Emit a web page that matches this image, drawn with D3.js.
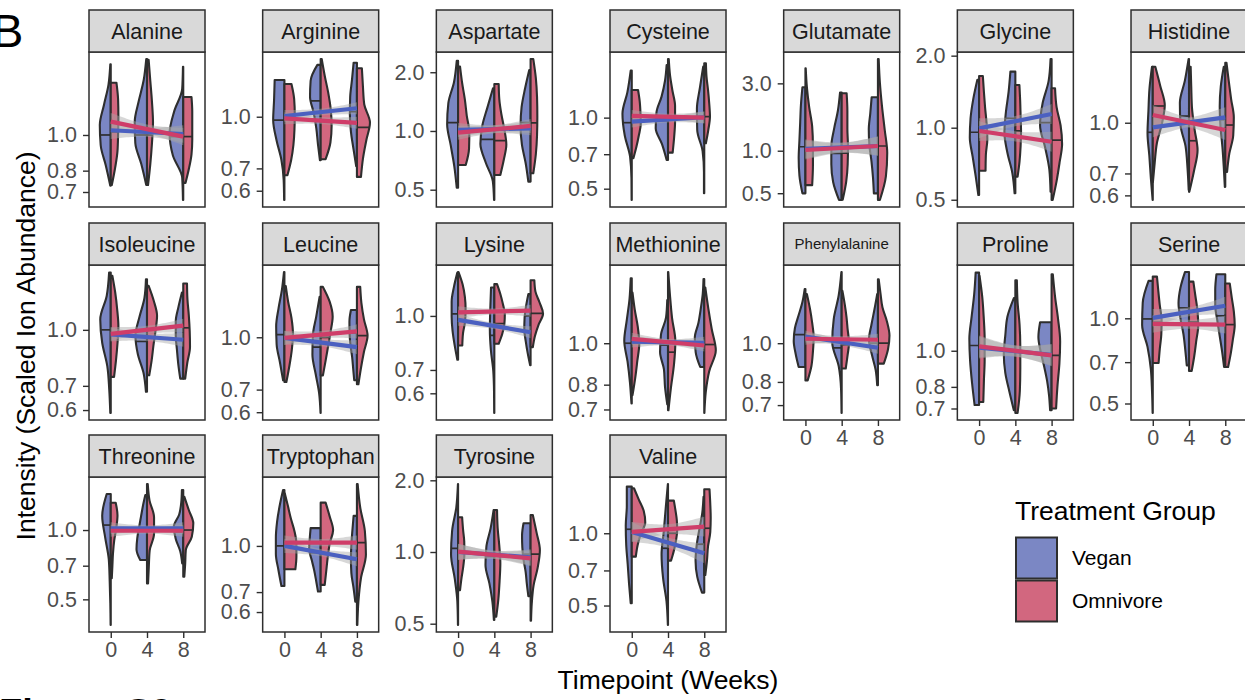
<!DOCTYPE html>
<html><head><meta charset="utf-8">
<script src="https://cdn.jsdelivr.net/npm/d3@7"></script>
<style>body{margin:0;background:#fff}svg{display:block;font-family:"Liberation Sans",Arial,Helvetica,sans-serif}</style>
</head><body><svg id="c" width="1245" height="700"></svg>
<script>
const aminoAcids = ["Alanine","Arginine","Aspartate","Cysteine","Glutamate","Glycine","Histidine",
  "Isoleucine","Leucine","Lysine","Methionine","Phenylalanine","Proline","Serine",
  "Threonine","Tryptophan","Tyrosine","Valine"];
const timepoints = [0, 4, 8];
const groups = ["Vegan", "Omnivore"];
const xTickLabels = ["0", "4", "8"];
const yTickValues = [[0.7,0.8,1.0],[0.6,0.7,1.0],[0.5,1.0,2.0],[0.5,0.7,1.0],[0.5,1.0,3.0],[0.5,1.0,2.0],[0.6,0.7,1.0],
  [0.6,0.7,1.0],[0.6,0.7,1.0],[0.6,0.7,1.0],[0.7,0.8,1.0],[0.7,0.8,1.0],[0.7,0.8,1.0],[0.5,0.7,1.0],
  [0.5,0.7,1.0],[0.6,0.7,1.0],[0.5,1.0,2.0],[0.5,0.7,1.0]];
// observed min / max of each panel
const yDataRange = [[0.666,1.608],[0.563,1.489],[0.443,2.337],[0.448,1.771],[0.448,4.46],[0.499,1.936],[0.581,1.565],
  [0.589,1.445],[0.597,1.56],[0.527,1.336],[0.687,1.467],[0.669,1.507],[0.681,1.626],[0.463,1.457],
  [0.387,1.584],[0.543,1.613],[0.494,1.929],[0.415,1.603]];
// half violins: [min, max, median, relative density from min to max] for weeks 0, 4, 8
const veganViolins = [
 [[0.728,1.556,1.00,[0.03,0.33,0.67,0.73,0.45,0.15,0.03]],[0.731,1.608,1.00,[0.05,0.38,0.78,0.82,0.55,0.22,0.05]],[0.666,1.533,0.99,[0.02,0.07,0.69,0.91,0.6,0.07,0.02]]],
 [[0.563,1.289,0.977,[0.02,0.05,0.2,0.53,0.75,0.69,0.65]],[0.741,1.43,1.115,[0.05,0.18,0.29,0.47,0.71,0.67,0.22]],[0.711,1.452,1.035,[0.05,0.23,0.4,0.47,0.45,0.33,0.22]]],
 [[0.512,2.286,1.103,[0.09,0.25,0.49,0.73,0.65,0.27,0.09]],[0.443,1.655,0.906,[0.02,0.1,0.57,0.93,0.8,0.45,0.09]],[0.55,2.055,1.103,[0.15,0.33,0.58,0.67,0.6,0.37,0.09]]],
 [[0.448,1.582,0.952,[0.01,0.02,0.11,0.47,0.62,0.29,0.07]],[0.662,1.672,0.971,[0.09,0.4,0.82,0.77,0.43,0.2,0.09]],[0.478,1.645,1.01,[0.02,0.02,0.11,0.47,0.49,0.29,0.07]]],
 [[0.499,2.815,1.067,[0.2,0.4,0.45,0.4,0.35,0.3,0.2]],[0.448,2.578,0.958,[0.18,0.57,0.69,0.69,0.5,0.25,0.11]],[0.499,2.39,1.08,[0.27,0.33,0.43,0.57,0.61,0.51,0.42]]],
 [[0.523,1.584,0.957,[0.05,0.23,0.43,0.62,0.57,0.39,0.12]],[0.532,1.715,1.095,[0.05,0.2,0.53,0.73,0.63,0.45,0.33]],[0.54,1.936,1.05,[0.07,0.15,0.43,0.77,0.6,0.2,0.07]]],
 [[0.581,1.483,0.935,[0.01,0.13,0.23,0.35,0.29,0.22,0.05]],[0.623,1.565,1.048,[0.02,0.1,0.23,0.57,0.61,0.28,0.03]],[0.637,1.483,1.02,[0.03,0.1,0.19,0.32,0.37,0.3,0.1]]],
 [[0.589,1.44,1.0,[0.03,0.1,0.23,0.57,0.7,0.27,0.11]],[0.674,1.38,0.929,[0.07,0.23,0.61,0.77,0.5,0.17,0.07]],[0.733,1.268,1.02,[0.2,0.33,0.42,0.5,0.5,0.32,0.09]]],
 [[0.746,1.56,1.018,[0.09,0.3,0.52,0.55,0.39,0.17,0.03]],[0.597,1.318,0.935,[0.01,0.1,0.33,0.55,0.52,0.29,0.07]],[0.746,1.204,1.03,[0.18,0.25,0.32,0.43,0.49,0.5,0.4]]],
 [[0.749,1.331,1.013,[0.05,0.23,0.37,0.43,0.43,0.28,0.05]],[0.527,1.206,0.879,[0.01,0.02,0.07,0.23,0.3,0.27,0.22]],[0.722,1.155,1.0,[0.03,0.19,0.32,0.42,0.4,0.3,0.15]]],
 [[0.723,1.419,1.0,[0.02,0.12,0.28,0.5,0.33,0.15,0.07]],[0.72,1.262,0.99,[0.05,0.2,0.27,0.53,0.47,0.13,0.05]],[0.88,1.412,1.0,[0.27,0.57,0.63,0.39,0.23,0.1,0.05]]],
 [[0.872,1.366,1.051,[0.45,0.65,0.78,0.7,0.45,0.2,0.05]],[0.669,1.507,0.974,[0.01,0.04,0.2,0.63,0.53,0.2,0.02]],[0.785,1.327,1.0,[0.05,0.15,0.4,0.6,0.43,0.23,0.05]]],
 [[0.715,1.62,1.033,[0.3,0.47,0.6,0.65,0.5,0.33,0.23]],[0.693,1.384,1.0,[0.1,0.4,0.67,0.77,0.67,0.53,0.1]],[0.693,1.192,0.972,[0.1,0.17,0.3,0.5,0.73,0.88,0.77]]],
 [[0.463,1.356,0.995,[0.01,0.05,0.13,0.35,0.71,0.67,0.28]],[0.682,1.457,1.088,[0.15,0.25,0.37,0.57,0.7,0.57,0.27]],[0.673,1.431,1.02,[0.08,0.21,0.37,0.53,0.67,0.67,0.59]]],
 [[0.387,1.434,1.051,[0.01,0.03,0.07,0.13,0.37,0.57,0.27]],[0.741,1.42,1.0,[0.45,0.7,0.65,0.53,0.4,0.27,0.11]],[0.716,1.493,0.98,[0.07,0.2,0.5,0.63,0.27,0.13,0.09]]],
 [[0.734,1.541,1.0,[0.2,0.4,0.57,0.57,0.49,0.32,0.09]],[0.703,1.147,0.95,[0.18,0.3,0.43,0.6,0.77,0.73,0.67]],[0.65,1.261,0.9,[0.11,0.23,0.37,0.4,0.37,0.3,0.22]]],
 [[0.494,1.929,1.036,[0.01,0.05,0.23,0.47,0.4,0.12,0.01]],[0.518,1.5,0.956,[0.03,0.13,0.33,0.59,0.53,0.25,0.05]],[0.653,1.32,0.98,[0.15,0.25,0.33,0.47,0.55,0.57,0.47]]],
 [[0.511,1.564,1.039,[0.07,0.18,0.27,0.37,0.4,0.33,0.33]],[0.415,1.603,0.866,[0.01,0.1,0.33,0.43,0.28,0.15,0.01]],[0.566,1.42,0.9,[0.15,0.47,0.58,0.5,0.32,0.13,0.05]]]
];
const omnivoreViolins = [
 [[0.731,1.387,1.02,[0.07,0.29,0.45,0.49,0.51,0.49,0.38]],[0.731,1.60,1.00,[0.07,0.22,0.33,0.4,0.33,0.22,0.11]],[0.741,1.268,0.99,[0.15,0.38,0.55,0.6,0.6,0.6,0.55]]],
 [[0.668,1.254,0.98,[0.2,0.45,0.6,0.67,0.69,0.65,0.47]],[0.746,1.489,0.97,[0.33,0.65,0.73,0.67,0.5,0.27,0.07]],[0.66,1.397,0.929,[0.27,0.4,0.62,0.87,0.49,0.4,0.33]]],
 [[0.669,2.137,0.977,[0.51,0.73,0.75,0.58,0.45,0.27,0.13]],[0.595,1.742,0.892,[0.4,0.63,0.8,0.67,0.47,0.33,0.29]],[0.607,2.337,1.10,[0.18,0.35,0.43,0.45,0.43,0.35,0.18]]],
 [[0.673,1.31,1.027,[0.11,0.31,0.47,0.6,0.58,0.53,0.42]],[0.711,1.771,1.0,[0.31,0.41,0.47,0.47,0.29,0.13,0.05]],[0.779,1.70,1.01,[0.11,0.27,0.38,0.33,0.25,0.15,0.11]]],
 [[0.571,3.84,1.05,[0.45,0.5,0.5,0.45,0.25,0.1,0.02]],[0.45,2.555,0.96,[0.07,0.3,0.4,0.42,0.38,0.38,0.33]],[0.448,4.46,1.08,[0.13,0.53,0.62,0.45,0.27,0.13,0.05]]],
 [[0.661,1.645,0.97,[0.43,0.45,0.55,0.5,0.4,0.32,0.25]],[0.624,1.509,0.97,[0.15,0.28,0.35,0.38,0.35,0.32,0.27]],[0.499,1.462,0.888,[0.07,0.33,0.53,0.7,0.6,0.33,0.23]]],
 [[0.66,1.483,1.125,[0.01,0.13,0.27,0.6,0.8,0.5,0.17]],[0.615,1.483,0.881,[0.02,0.33,0.57,0.37,0.2,0.15,0.11]],[0.708,1.525,0.984,[0.12,0.27,0.53,0.57,0.39,0.23,0.08]]],
 [[0.741,1.41,0.98,[0.22,0.35,0.45,0.51,0.43,0.3,0.11]],[0.749,1.323,1.0,[0.15,0.31,0.43,0.57,0.67,0.45,0.11]],[0.733,1.343,1.013,[0.13,0.27,0.45,0.43,0.37,0.28,0.25]]],
 [[0.737,1.419,1.0,[0.13,0.33,0.49,0.57,0.47,0.25,0.09]],[0.771,1.41,1.0,[0.15,0.33,0.5,0.67,0.8,0.6,0.15]],[0.726,1.41,1.012,[0.1,0.27,0.47,0.71,0.47,0.3,0.22]]],
 [[0.823,1.336,1.02,[0.28,0.33,0.47,0.5,0.45,0.3,0.03]],[0.832,1.234,0.95,[0.29,0.53,0.67,0.7,0.57,0.4,0.18]],[0.814,1.266,1.017,[0.15,0.29,0.53,0.83,0.6,0.32,0.25]]],
 [[0.756,1.314,1.0,[0.05,0.23,0.37,0.5,0.4,0.2,0.05]],[0.697,1.467,0.953,[0.03,0.2,0.4,0.49,0.27,0.13,0.02]],[0.687,1.35,0.993,[0.01,0.1,0.33,0.77,0.5,0.27,0.07]]],
 [[0.807,1.327,1.02,[0.15,0.4,0.5,0.55,0.45,0.3,0.1]],[0.864,1.352,0.99,[0.27,0.39,0.49,0.4,0.32,0.2,0.05]],[0.889,1.446,1.0,[0.39,0.67,0.77,0.6,0.3,0.17,0.05]]],
 [[0.729,1.588,1.02,[0.28,0.32,0.37,0.37,0.31,0.21,0.03]],[0.681,1.546,1.0,[0.15,0.3,0.33,0.33,0.28,0.15,0.1]],[0.70,1.604,0.972,[0.3,0.39,0.52,0.57,0.43,0.23,0.08]]],
 [[0.695,1.404,0.97,[0.39,0.47,0.57,0.59,0.47,0.37,0.28]],[0.652,1.348,0.97,[0.18,0.35,0.48,0.61,0.57,0.43,0.29]],[0.673,1.327,0.95,[0.19,0.37,0.51,0.63,0.57,0.43,0.3]]],
 [[0.617,1.314,0.99,[0.07,0.11,0.15,0.23,0.37,0.45,0.33]],[0.586,1.584,1.0,[0.07,0.12,0.18,0.47,0.47,0.17,0.05]],[0.627,1.396,1.0,[0.07,0.13,0.17,0.57,0.67,0.37,0.07]]],
 [[0.835,1.503,1.02,[0.73,0.8,0.8,0.67,0.43,0.23,0.02]],[0.74,1.397,1.02,[0.27,0.37,0.47,0.6,0.83,0.6,0.33]],[0.543,1.613,1.026,[0.03,0.1,0.27,0.6,0.53,0.22,0.05]]],
 [[0.692,1.399,1.0,[0.13,0.23,0.35,0.42,0.41,0.33,0.27]],[0.535,1.5,0.96,[0.13,0.27,0.35,0.4,0.33,0.22,0.18]],[0.515,1.43,0.98,[0.03,0.08,0.2,0.47,0.62,0.4,0.15]]],
 [[0.799,1.54,1.0,[0.27,0.39,0.6,0.9,0.8,0.47,0.15]],[0.769,1.367,1.0,[0.2,0.39,0.53,0.61,0.59,0.5,0.39]],[0.67,1.525,1.049,[0.07,0.18,0.25,0.4,0.43,0.4,0.35]]]
];
// linear trend (log scale) fitted value at week 0 and week 8
const veganTrend = [[1.03,1.006],[1.005,1.06],[1.012,1.032],[0.962,1.004],[1.03,1.08],[0.994,1.141],[0.968,1.039],
  [0.971,0.939],[0.996,0.935],[0.974,0.898],[1.009,1.002],[1.039,0.974],[1.02,0.975],[1.003,1.108],
  [1.017,1.017],[1.0,0.902],[1.0,0.95],[1.013,0.825]];
const omnivoreTrend = [[1.087,0.99],[0.989,0.959],[0.98,1.061],[1.017,1.0],[1.012,1.08],[0.969,0.874],[1.056,0.95],
  [0.975,1.027],[0.996,1.041],[1.024,1.035],[1.024,0.988],[1.026,1.02],[1.027,0.972],[0.956,0.95],
  [0.993,0.993],[1.026,1.026],[1.003,0.941],[1.013,1.066]];
// confidence band half width (fold) at the ends and at the centre
const trendCI = [[1.056,1.03],[1.042,1.024],[1.086,1.048],[1.06,1.03],[1.17,1.085],[1.101,1.05],[1.073,1.035],
  [1.045,1.025],[1.049,1.025],[1.04,1.02],[1.033,1.016],[1.035,1.018],[1.07,1.035],[1.075,1.037],
  [1.062,1.03],[1.056,1.028],[1.08,1.04],[1.1,1.05]];

const fillColor = {Vegan: "#7b87c4", Omnivore: "#d2677f"};
const lineColor = {Vegan: "#4b60c0", Omnivore: "#cf3d69"};
const svg = d3.select("#c");
const NCOL = 7, PW = 116, STRIP = 42, PH = 155, MAXW = 15;
const colLeft = c => 89 + c * 173.67;
const rowTop = [10, 223, 435];
const outline = "#2e2e2e";
const TICKFONT = 21.5;

aminoAcids.forEach((name, i) => {
  const r = Math.floor(i / NCOL), c = i % NCOL;
  const L = colLeft(c), T = rowTop[r], PT = T + STRIP, PB = PT + PH;
  const g = svg.append("g");
  const [lo, hi] = yDataRange[i];
  const l0 = Math.log10(lo), l1 = Math.log10(hi), pad = 0.05 * (l1 - l0);
  const y = d3.scaleLog().domain([Math.pow(10, l0 - pad), Math.pow(10, l1 + pad)]).range([PB, PT]);
  const x = d3.scaleLinear().domain([-2.4, 10.4]).range([L, L + PW]);

  g.append("rect").attr("x", L).attr("y", PT).attr("width", PW).attr("height", PH).attr("fill", "#fff");
  const clipId = "clip" + i;
  g.append("clipPath").attr("id", clipId).append("rect").attr("x", L).attr("y", PT).attr("width", PW).attr("height", PH);
  const pg = g.append("g").attr("clip-path", `url(#${clipId})`);

  const sets = {Vegan: veganViolins[i], Omnivore: omnivoreViolins[i]};
  groups.forEach(grp => {
    const sign = grp === "Vegan" ? -1 : 1;
    sets[grp].forEach((vd, ti) => {
      const [vlo, vhi, med, w] = vd;
      const n = w.length;
      const a = Math.log(vlo), b = Math.log(vhi);
      const pts = w.map((wi, j) => ({v: Math.exp(a + (b - a) * j / (n - 1)), w: wi})).reverse();
      const cx = x(timepoints[ti]);
      const area = d3.area().curve(d3.curveMonotoneY)
        .y(d => y(d.v)).x0(cx).x1(d => cx + sign * d.w * MAXW);
      pg.append("path").attr("d", area(pts)).attr("fill", fillColor[grp])
        .attr("stroke", outline).attr("stroke-width", 2.1).attr("stroke-linejoin", "round");
      // median line
      const f = (Math.log(med) - a) / (b - a) * (n - 1);
      const j0 = Math.max(0, Math.min(n - 2, Math.floor(f)));
      const wm = w[j0] + (w[j0 + 1] - w[j0]) * (f - j0);
      pg.append("line").attr("x1", cx).attr("x2", cx + sign * wm * MAXW)
        .attr("y1", y(med)).attr("y2", y(med)).attr("stroke", outline).attr("stroke-width", 1.7);
    });
  });

  // trend bands and lines
  const trends = {Vegan: veganTrend[i], Omnivore: omnivoreTrend[i]};
  const [ciE, ciM] = trendCI[i];
  const e = Math.log(ciE), m = Math.log(ciM);
  const ts = d3.range(0, 8.0001, 0.25);
  groups.forEach(grp => {
    const [v0, v8] = trends[grp];
    const pts = ts.map(t => {
      const lc = Math.log(v0) + (Math.log(v8) - Math.log(v0)) * t / 8;
      const se = Math.sqrt(m * m + (e * e - m * m) * Math.pow((t - 4) / 4, 2));
      return {t, lo: Math.exp(lc - se), hi: Math.exp(lc + se)};
    });
    pg.append("path").attr("d", d3.area().x(d => x(d.t)).y0(d => y(d.lo)).y1(d => y(d.hi))(pts))
      .attr("fill", "#a6a6a6").attr("fill-opacity", 0.45);
  });
  groups.forEach(grp => {
    const [v0, v8] = trends[grp];
    pg.append("path").attr("d", d3.line().x(d => x(d[0])).y(d => y(d[1]))([[0, v0], [8, v8]]))
      .attr("stroke", lineColor[grp]).attr("stroke-width", 4.2).attr("fill", "none");
  });

  g.append("rect").attr("x", L).attr("y", PT).attr("width", PW).attr("height", PH)
    .attr("fill", "none").attr("stroke", outline).attr("stroke-width", 1.5);

  // strip
  g.append("rect").attr("x", L).attr("y", T).attr("width", PW).attr("height", STRIP)
    .attr("fill", "#d9d9d9").attr("stroke", outline).attr("stroke-width", 1.5);
  g.append("text").attr("x", L + PW / 2).attr("y", T + STRIP / 2).attr("dy", "0.36em")
    .attr("text-anchor", "middle").attr("fill", "#1a1a1a")
    .attr("font-size", name.length > 11 ? 15 : 21.5).text(name);

  // y axis
  const ya = g.append("g").attr("transform", `translate(${L},0)`)
    .call(d3.axisLeft(y).tickValues(yTickValues[i]).tickFormat(d3.format(".1f")).tickSize(6).tickPadding(6));
  ya.select(".domain").remove();
  ya.selectAll(".tick line").attr("stroke", outline).attr("stroke-width", 1.4);
  ya.selectAll(".tick text").attr("fill", "#4d4d4d").attr("font-size", TICKFONT).attr("font-family", null);

  // x axis for bottom panel of each column
  if (i + NCOL >= aminoAcids.length) {
    const xa = g.append("g").attr("transform", `translate(0,${PB})`)
      .call(d3.axisBottom(x).tickValues(timepoints).tickFormat((d, k) => xTickLabels[k]).tickSize(6).tickPadding(4));
    xa.select(".domain").remove();
    xa.selectAll(".tick line").attr("stroke", outline).attr("stroke-width", 1.4);
    xa.selectAll(".tick text").attr("fill", "#4d4d4d").attr("font-size", TICKFONT).attr("font-family", null);
  }
});

// axis titles
svg.append("text").attr("transform", "translate(35,346) rotate(-90)").attr("text-anchor", "middle")
  .attr("font-size", 26.5).attr("fill", "#000").text("Intensity (Scaled Ion Abundance)");
svg.append("text").attr("x", 668).attr("y", 689).attr("text-anchor", "middle")
  .attr("font-size", 26.5).attr("fill", "#000").text("Timepoint (Weeks)");

// legend
svg.append("text").attr("x", 1015).attr("y", 520).attr("font-size", 26.5).attr("fill", "#000").text("Treatment Group");
groups.forEach((grp, k) => {
  const ty = 537.5 + k * 43;
  svg.append("rect").attr("x", 1016).attr("y", ty).attr("width", 41).attr("height", 41)
    .attr("fill", fillColor[grp]).attr("stroke", outline).attr("stroke-width", 2);
  svg.append("text").attr("x", 1072).attr("y", ty + 20.5).attr("dy", "0.35em")
    .attr("font-size", 21).attr("fill", "#000").text(grp);
});

// panel tag and cropped figure caption
svg.append("text").attr("x", -8).attr("y", 47).attr("font-size", 47).attr("fill", "#000").text("B");
svg.append("text").attr("x", -1).attr("y", 726).attr("font-size", 38).attr("font-weight", "bold").attr("fill", "#000").text("Figure S9");
</script></body></html>
